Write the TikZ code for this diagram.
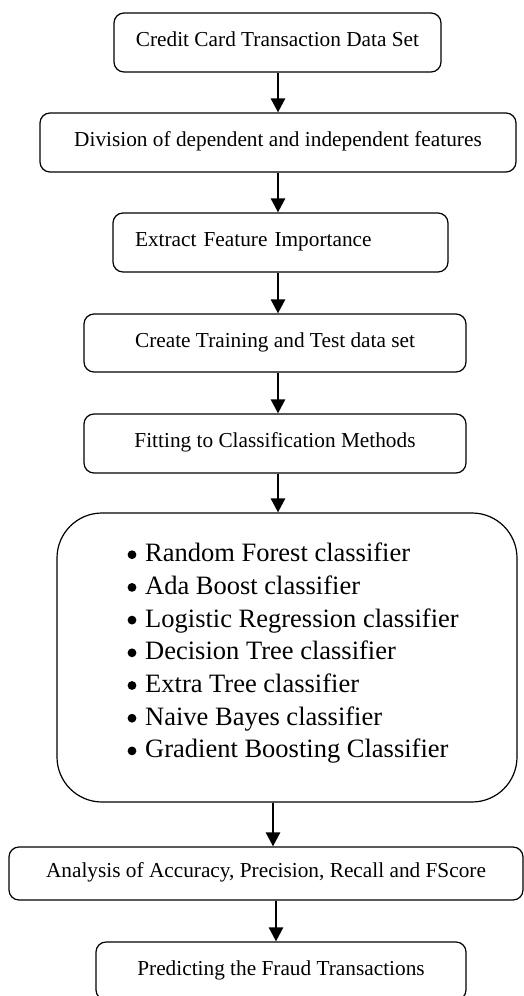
\documentclass[tikz,border=0pt]{standalone}
\usepackage{fontspec}
\setmainfont{Liberation Serif}
\usetikzlibrary{arrows.meta}

\tikzset{
  stepbox/.style={draw=black, line width=1.2pt, rounded corners=10pt,
    inner sep=0pt, text height=14pt, text depth=6pt,
    font=\fontsize{21.3}{25}\selectfont},
  listbox/.style={draw=black, line width=1.2pt, rounded corners=45pt, inner sep=0pt},
  item/.style={anchor=base west, inner sep=0pt, font=\fontsize{26.5}{32}\selectfont},
  arr/.style={line width=2.6pt, -{Triangle[length=14pt,width=14pt]}}
}

\begin{document}
\begin{tikzpicture}[x=1pt, y=-1pt]
  \clip (0,0) rectangle (524,996);
  \fill[white] (0,0) rectangle (524,996);

  % process steps
  \node[stepbox, minimum width=327pt, minimum height=59pt] (data) at (277.5,42.5)
    {Credit Card Transaction Data Set};
  \node[stepbox, minimum width=476pt, minimum height=59pt] (split) at (278,142.5)
    {Division of dependent and independent features};
  \node[stepbox, minimum height=59pt, text width=291pt, align=left, inner xsep=22pt]
    (feat) at (280.5,242.5) {Extract Feature Importance};
  \node[stepbox, minimum width=382pt, minimum height=58pt] (train) at (275,343)
    {Create Training and Test data set};
  \node[stepbox, minimum width=382pt, minimum height=59pt] (fit) at (275,443.5)
    {Fitting to Classification Methods};

  % classifiers
  \node[listbox, minimum width=460pt, minimum height=289pt] (models) at (287,657.5) {};
  \foreach \name/\txt [count=\i from 0] in {
      rf/Random Forest classifier,
      ada/Ada Boost classifier,
      lr/Logistic Regression classifier,
      dt/Decision Tree classifier,
      et/Extra Tree classifier,
      nb/Naive Bayes classifier,
      gb/Gradient Boosting Classifier} {
    \pgfmathsetmacro{\yb}{561.7+32.7*\i}
    \fill (132,\yb-7) circle (4.4pt);
    \node[item] (\name) at (145,\yb) {\txt};
  }

  \node[stepbox, minimum width=514pt, minimum height=53pt] (eval) at (266,873.5)
    {Analysis of Accuracy, Precision, Recall and FScore};
  \node[stepbox, minimum width=370pt, minimum height=58pt] (pred) at (281,971)
    {Predicting the Fraud Transactions};

  % flow
  \draw[arr] (data.south -| 278,0)  -- (split.north -| 278,0);
  \draw[arr] (split.south -| 278,0) -- (feat.north -| 278,0);
  \draw[arr] (feat.south -| 278,0)  -- (train.north -| 278,0);
  \draw[arr] (train.south -| 278,0) -- (fit.north -| 278,0);
  \draw[arr] (fit.south -| 278,0)   -- (models.north -| 278,0);
  \draw[arr] (models.south -| 273,0) -- (eval.north -| 273,0);
  \draw[arr] (eval.south -| 276,0)  -- (pred.north -| 276,0);
\end{tikzpicture}
\end{document}
